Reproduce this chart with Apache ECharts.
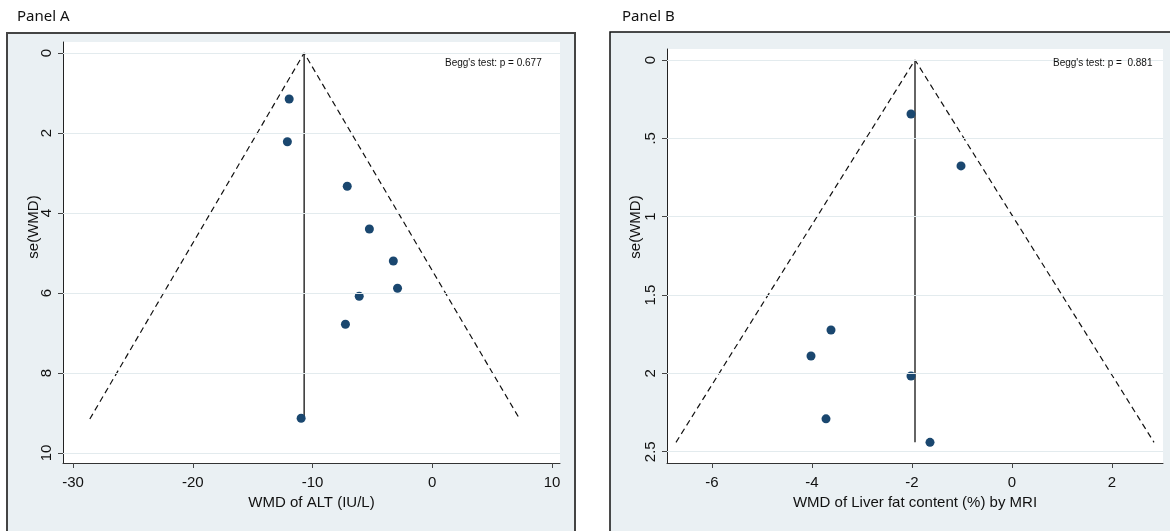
<!DOCTYPE html>
<html lang="en">
<head>
    <meta charset="UTF-8">
    <title>Funnel plots</title>
    <style>
        html, body { margin: 0; padding: 0; background: #fff; }
        #main { width: 1170px; height: 531px; }
    </style>
</head>
<body>
<div id="main"></div>
<script src="https://cdn.jsdelivr.net/npm/echarts@6/dist/echarts.min.js"></script>
<script>
    // Panel A - ALT
    var xTicksA = [-30, -20, -10, 0, 10];
    var yTicksA = [0, 2, 4, 6, 8, 10];
    var wmdA = [-11.95, -12.1, -7.1, -5.25, -3.25, -2.9, -6.1, -7.25, -10.95];
    var seA = [1.15, 2.22, 3.33, 4.4, 5.2, 5.88, 6.08, 6.78, 9.13];
    var funnelXA = [-28.6, -10.7, 7.3];
    var funnelSeA = [9.15, 0, 9.15];
    var pooledXA = [-10.7, -10.7];
    var pooledSeA = [0, 9.15];

    // Panel B - liver fat
    var xTicksB = [-6, -4, -2, 0, 2];
    var yTicksB = [0, 0.5, 1, 1.5, 2, 2.5];
    var yLabelsB = ['0', '.5', '1', '1.5', '2', '2.5'];
    var wmdB = [-2.02, -1.02, -3.62, -4.02, -2.02, -3.72, -1.64];
    var seB = [0.345, 0.676, 1.723, 1.889, 2.017, 2.29, 2.44];
    var funnelXB = [-6.72, -1.94, 2.84];
    var funnelSeB = [2.44, 0, 2.44];
    var pooledXB = [-1.94, -1.94];
    var pooledSeB = [0, 2.44];

    var FONT = '"Liberation Sans", Arial, sans-serif';
    var BG = '#eaf0f3';
    var GRIDLINE = '#e3ebee';
    var NAVY = '#1a476f';

    function pairs(xs, ys) {
        var out = [];
        for (var i = 0; i < xs.length; i++) out.push([xs[i], ys[i]]);
        return out;
    }

    function xAxisCfg(idx, min, max, ticks, name) {
        return {
            type: 'value', gridIndex: idx, min: min, max: max,
            name: name, nameLocation: 'middle', nameGap: 32,
            nameTextStyle: {fontFamily: FONT, fontSize: 15, color: '#111'},
            axisLine: {show: true, onZero: false, lineStyle: {color: '#333', width: 1}},
            axisTick: {show: true, length: 5, customValues: ticks, lineStyle: {color: '#444'}},
            axisLabel: {customValues: ticks, margin: 12, fontFamily: FONT, fontSize: 15, color: '#111'},
            splitLine: {show: false}
        };
    }

    function yAxisCfg(idx, min, max, ticks, labels) {
        return {
            type: 'value', gridIndex: idx, min: min, max: max, inverse: true,
            axisLine: {show: true, onZero: false, lineStyle: {color: '#222', width: 1}},
            axisTick: {show: true, length: 5, customValues: ticks, lineStyle: {color: '#444'}},
            axisLabel: {
                customValues: ticks, rotate: 90, margin: 9,
                fontFamily: FONT, fontSize: 15, color: '#111',
                formatter: function (v) {
                    if (!labels) return String(v);
                    var i = ticks.indexOf(v);
                    return i >= 0 ? labels[i] : '';
                }
            },
            splitLine: {show: false}
        };
    }

    function panelSeries(idx, wmd, se, fx, fs, px, ps, ticks) {
        return [
            {
                type: 'line', xAxisIndex: idx, yAxisIndex: idx, z: 1,
                data: pairs(fx, fs), symbol: 'none', silent: true,
                lineStyle: {color: '#111', width: 1.2, type: [6, 4]},
                markLine: {
                    silent: true, symbol: 'none', label: {show: false},
                    lineStyle: {color: GRIDLINE, width: 1, type: 'solid'},
                    data: ticks.map(function (v) { return {yAxis: v}; })
                }
            },
            {
                type: 'line', xAxisIndex: idx, yAxisIndex: idx, z: 2,
                data: pairs(px, ps), symbol: 'none', silent: true,
                lineStyle: {color: '#111', width: 1.3, type: 'solid'}
            },
            {
                type: 'scatter', xAxisIndex: idx, yAxisIndex: idx, z: 3,
                data: pairs(wmd, se), symbol: 'circle', symbolSize: 9,
                itemStyle: {color: NAVY, opacity: 1}
            }
        ];
    }

    var myChart = echarts.init(document.getElementById('main'));

    var option = {
        animation: false,
        backgroundColor: '#fff',
        graphic: [
            {type: 'rect', z: -10, shape: {x: 7, y: 33, width: 568, height: 520},
                style: {fill: BG, stroke: '#444', lineWidth: 2}},
            {type: 'rect', z: -10, shape: {x: 610, y: 32, width: 580, height: 520},
                style: {fill: BG, stroke: '#111', lineWidth: 1.5}},
            {type: 'text', x: 17, y: 17, style: {text: 'Panel A', fontFamily: '"Noto Sans", sans-serif',
                fontSize: 15, fill: '#111', verticalAlign: 'middle'}},
            {type: 'text', x: 622, y: 17, style: {text: 'Panel B', fontFamily: '"Noto Sans", sans-serif',
                fontSize: 15, fill: '#111', verticalAlign: 'middle'}},
            {type: 'text', x: 445, y: 63, z: 10, style: {text: "Begg's test: p = 0.677", fontFamily: FONT,
                fontSize: 10, fill: '#111', verticalAlign: 'middle'}},
            {type: 'text', x: 1053, y: 63, z: 10, style: {text: "Begg's test: p =  0.881", fontFamily: FONT,
                fontSize: 10, fill: '#111', verticalAlign: 'middle'}},
            {type: 'text', x: 34, y: 227, rotation: Math.PI / 2, style: {text: 'se(WMD)', fontFamily: FONT,
                fontSize: 15, fill: '#111', align: 'center', verticalAlign: 'middle'}},
            {type: 'text', x: 636, y: 227, rotation: Math.PI / 2, style: {text: 'se(WMD)', fontFamily: FONT,
                fontSize: 15, fill: '#111', align: 'center', verticalAlign: 'middle'}}
        ],
        grid: [
            {left: 63, top: 42, width: 497, height: 421, show: true, backgroundColor: '#fff', borderWidth: 0},
            {left: 667, top: 49, width: 496, height: 414, show: true, backgroundColor: '#fff', borderWidth: 0}
        ],
        xAxis: [
            xAxisCfg(0, -30.84, 10.67, xTicksA, 'WMD of ALT (IU/L)'),
            xAxisCfg(1, -6.9, 3.02, xTicksB, 'WMD of Liver fat content (%) by MRI')
        ],
        yAxis: [
            yAxisCfg(0, -0.275, 10.25, yTicksA, null),
            yAxisCfg(1, -0.07, 2.572, yTicksB, yLabelsB)
        ],
        series: panelSeries(0, wmdA, seA, funnelXA, funnelSeA, pooledXA, pooledSeA, yTicksA)
            .concat(panelSeries(1, wmdB, seB, funnelXB, funnelSeB, pooledXB, pooledSeB, yTicksB))
    };

    myChart.setOption(option);
</script>
</body>
</html>
